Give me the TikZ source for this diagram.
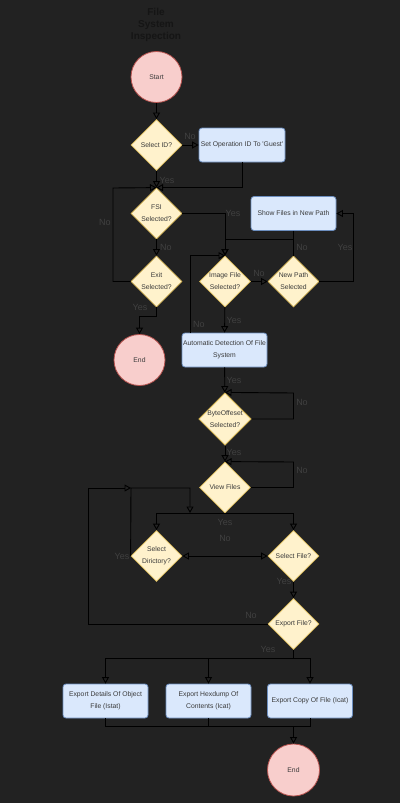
\documentclass[tikz,border=0pt]{standalone}
\usepackage{fontspec}
\setmainfont{Liberation Sans}
\usetikzlibrary{shapes.geometric,arrows.meta}
\definecolor{bgc}{HTML}{222222}
\definecolor{termfill}{HTML}{F8CECC}
\definecolor{termline}{HTML}{B85450}
\definecolor{askfill}{HTML}{FFF2CC}
\definecolor{askline}{HTML}{D6B656}
\definecolor{procfill}{HTML}{DAE8FC}
\definecolor{procline}{HTML}{6C8EBF}
\definecolor{lbltext}{HTML}{404040}
\definecolor{titletext}{HTML}{151515}
\definecolor{shapetext}{HTML}{3A3A3A}
\begin{document}
\begin{tikzpicture}[x=1pt,y=-1pt,
  term/.style={circle,draw=termline,fill=termfill,line width=0.8pt,minimum size=51pt,inner sep=0pt,text=shapetext,font=\fontsize{6.8}{12}\selectfont},
  ask/.style={diamond,draw=askline,fill=askfill,line width=0.8pt,minimum width=51pt,minimum height=51pt,inner sep=0pt,align=center,text=shapetext,font=\fontsize{6.8}{12}\selectfont},
  proc/.style={rectangle,rounded corners=3pt,draw=procline,fill=procfill,line width=0.8pt,minimum width=85pt,minimum height=34pt,inner sep=1pt,align=center,text=shapetext,font=\fontsize{6.8}{12}\selectfont},
  lbl/.style={text=lbltext,inner sep=0pt,font=\fontsize{9}{10}\selectfont},
  flow/.style={draw=black,line width=0.9pt,-{Triangle[open,length=6.5pt,width=7pt]}},
  line/.style={draw=black,line width=0.9pt}]
\useasboundingbox[fill=bgc] (0,0) rectangle (400,803);
\node[text=titletext,align=center,font=\bfseries\fontsize{10}{12}\selectfont] (title) at (156,25) {File\\System\\Inspection};
\node[term] (start) at (156.5,77) {Start};
\node[ask] (selid) at (156.5,145) {Select ID?};
\node[proc,minimum width=86pt,inner sep=0pt] (setop) at (242,145) {Set Operation ID To \textquotesingle Guest\textquotesingle};
\node[ask] (fsi) at (156.5,213.5) {FSI\\Selected?};
\node[ask] (exit) at (156.5,281.5) {Exit\\Selected?};
\node[term] (end1) at (139.5,360) {End};
\node[ask] (imgf) at (225,281.5) {Image File\\Selected?};
\node[proc] (showf) at (293.5,213.5) {Show Files in New Path};
\node[ask] (newp) at (293.5,281.5) {New Path\\Selected};
\node[proc] (auto) at (224.5,350) {Automatic Detection Of File\\System};
\node[ask] (byte) at (225,419) {ByteOffeset\\Selected?};
\node[ask] (view) at (225,487.5) {View Files};
\node[ask] (seldir) at (156.5,556) {Select\\Dirictory?};
\node[ask] (self) at (293.5,556) {Select File?};
\node[ask] (expf) at (293.5,624) {Export File?};
\node[proc] (exp1) at (105.5,701) {Export Details Of Object\\File (Istat)};
\node[proc] (exp2) at (208.5,701) {Export Hexdump Of\\Contents (Icat)};
\node[proc] (exp3) at (310,701) {Export Copy Of File (Icat)};
\node[term,minimum size=52pt] (end2) at (293.5,770) {End};
\coordinate (exitloop) at (113,188);
\coordinate (npyes) at (353,213.5);
\coordinate (imgjoin) at (225,239);
\coordinate (autono) at (190,333);
\coordinate (byteno) at (293.5,393);
\coordinate (viewno) at (293.5,462);
\coordinate (dirup) at (131,488);
\coordinate (dirdown) at (190,513);
\coordinate (expno) at (88,488);
\coordinate (fan) at (293.5,658);
\coordinate (merge) at (293.5,726);
\draw[flow] (start) -- (selid);
\draw[flow] (selid) -- (setop);
\draw[flow] (selid) -- (fsi);
\draw[flow] (setop.south) |- (fsi.north);
\draw[flow] (exit.west) -| (exitloop) -- (fsi.north);
\draw[flow] (fsi) -- (exit);
\draw[flow] (fsi.east) -| (imgf.north);
\draw[flow] (exit.south) -- ++(0,9) -| (end1.north);
\draw[flow] (imgf) -- (newp);
\draw[flow] (newp.east) -| (npyes) -- (showf.east);
\draw[flow] (showf.south) |- (imgjoin) -- (imgf.north);
\draw[line] (newp.north) -- (newp.north |- imgjoin);
\draw[flow] (autono) |- (imgf.north);
\draw[flow] (imgf) -- (auto);
\draw[flow] (auto) -- (byte);
\draw[flow] (byte.east) -| (byteno) -- (byte.north);
\draw[flow] (byte) -- (view);
\draw[flow] (view.east) -| (viewno) -- (view.north);
\draw[flow] (view.south) -| (seldir.north);
\draw[flow] (view.south) -| (self.north);
\draw[flow,{Triangle[open,length=6.5pt,width=7pt]}-{Triangle[open,length=6.5pt,width=7pt]}] (seldir) -- (self);
\draw[flow] (seldir.west) -- (dirup) -| (dirdown);
\draw[flow] (expf.west) -| (expno) -- (dirup);
\draw[flow] (self) -- (expf);
\draw[line] (expf.south) -- (fan);
\draw[flow] (fan) -| (exp1.north);
\draw[flow] (fan) -| (exp2.north);
\draw[flow] (fan) -| (exp3.north);
\draw[line] (exp1.south) |- (merge);
\draw[line] (exp2.south) |- (merge);
\draw[line] (exp3.south) |- (merge);
\draw[flow] (merge) -- (end2.north);
\node[lbl] (l1) at (190,136) {No};
\node[lbl] (l2) at (167,180) {Yes};
\node[lbl] (l3) at (105,222) {No};
\node[lbl] (l4) at (166,247) {No};
\node[lbl] (l5) at (140,307) {Yes};
\node[lbl] (l6) at (233,213) {Yes};
\node[lbl] (l7) at (259,273) {No};
\node[lbl] (l8) at (302,247) {No};
\node[lbl] (l9) at (345,247) {Yes};
\node[lbl] (l10) at (234,320) {Yes};
\node[lbl] (l11) at (199,324) {No};
\node[lbl] (l12) at (234,380) {Yes};
\node[lbl] (l13) at (302,402) {No};
\node[lbl] (l14) at (234,452) {Yes};
\node[lbl] (l15) at (302,470) {No};
\node[lbl] (l16) at (225,522) {Yes};
\node[lbl] (l17) at (225,538) {No};
\node[lbl] (l18) at (122,556) {Yes};
\node[lbl] (l19) at (284,581) {Yes};
\node[lbl] (l20) at (251,615) {No};
\node[lbl] (l21) at (268,649) {Yes};
\end{tikzpicture}
\end{document}
